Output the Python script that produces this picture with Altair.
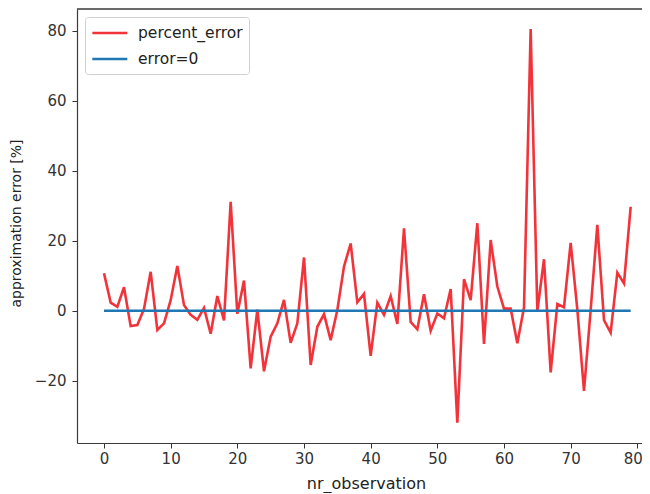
import altair as alt
import pandas as pd

# percent error per observation
percent_error = [
    10.7, 2.3, 1.1, 6.7, -4.4, -4.1, 0.5, 11.1, -5.5, -3.6,
    3.0, 12.8, 1.6, -1.2, -2.6, 0.8, -6.6, 4.2, -2.8, 31.1,
    -0.9, 8.6, -16.5, 0.3, -17.3, -7.4, -3.6, 3.1, -9.2, -3.6,
    15.2, -15.5, -4.6, -1.0, -8.4, 0.2, 12.6, 19.2, 2.4, 4.8,
    -12.9, 2.3, -1.2, 4.2, -3.8, 23.5, -3.2, -5.3, 4.7, -5.7,
    -0.8, -2.2, 6.2, -32.0, 9.0, 3.0, 25.0, -9.5, 20.2, 6.9,
    0.6, 0.6, -9.3, 0.9, 80.5, -0.1, 14.7, -17.6, 1.9, 1.0,
    19.4, 0.4, -22.9, 0.2, 24.5, -2.7, -6.3, 10.9, 7.8, 29.7,
]
observations = list(range(len(percent_error)))
zero_x = [0, 79]
zero_y = [0.0, 0.0]
series_names = ["percent_error", "error=0"]
series_colors = ["#f2333a", "#1f77b4"]
x_ticks = [0, 10, 20, 30, 40, 50, 60, 70, 80]
y_ticks = [-20, 0, 20, 40, 60, 80]

df_err = pd.DataFrame({"x": observations, "y": percent_error, "series": series_names[0]})
df_zero = pd.DataFrame({"x": zero_x, "y": zero_y, "series": series_names[1]})

FONT = "DejaVu Sans"
FRAME = "#3a3a3a"
W, H = 565, 434

color = alt.Color(
    "series:N",
    scale=alt.Scale(domain=series_names, range=series_colors),
    legend=alt.Legend(
        orient="none", legendX=8, legendY=8, title=None,
        symbolType="M-1,0H3.04", symbolSize=300, symbolStrokeWidth=2.5,
        labelFontSize=15.5, labelFont=FONT, labelColor="#222222", labelOffset=27,
        padding=6, strokeColor="#d0d0d0", fillColor="white", cornerRadius=3,
        rowPadding=7,
    ),
)

last_tick = "datum.value == %d" % x_ticks[-1]
xenc = alt.X(
    "x:Q",
    scale=alt.Scale(domain=[-4.05, 80.7], nice=False, zero=False),
    axis=alt.Axis(
        title="nr_observation", values=x_ticks,
        grid=False, domain=True, domainColor=FRAME, domainWidth=1.2,
        tickSize=5, tickColor="#333333",
        labelFontSize=15, labelFont=FONT, labelColor="#333333", labelPadding=3,
        labelAlign={"condition": {"test": last_tick, "value": "right"}, "value": "center"},
        labelOffset={"condition": {"test": last_tick, "value": 5}, "value": 0},
        titleFontSize=16, titleFont=FONT, titleFontWeight="normal", titleColor="#222222",
        titleX=289, titleY=45, titleAlign="center", titleBaseline="alphabetic",
    ),
)
yenc = alt.Y(
    "y:Q",
    scale=alt.Scale(domain=[-37.8, 86.2], nice=False, zero=False),
    axis=alt.Axis(
        title="approximation error [%]", values=y_ticks,
        grid=False, domain=True, domainColor=FRAME, domainWidth=1.2,
        tickSize=5, tickColor="#333333",
        labelFontSize=15, labelFont=FONT, labelColor="#333333", labelPadding=6,
        titleFontSize=14, titleFont=FONT, titleFontWeight="normal", titleColor="#222222",
        titleX=-56.5, titleY=214, titleBaseline="alphabetic", titleAngle=270,
    ),
)

err_line = alt.Chart(df_err).mark_line(strokeWidth=2.6, clip=True).encode(
    x=xenc, y=yenc, color=color
)
zero_line = alt.Chart(df_zero).mark_line(strokeWidth=2.6).encode(
    x="x:Q", y="y:Q", color=color
)
# top edge of the plot frame
top_frame = alt.Chart(df_zero).mark_rule(color=FRAME, strokeWidth=1.2).encode(
    x=alt.value(0), x2=alt.value(W), y=alt.value(0)
)

chart = (
    alt.layer(err_line, zero_line, top_frame)
    .properties(
        width=W, height=H,
        background="white",
        autosize=alt.AutoSizeParams(type="none"),
        padding={"left": 69, "top": 1, "right": 0, "bottom": 50},
    )
    .configure_view(stroke=None)
)

chart.save("out.html", embed_options={"renderer": "svg", "actions": False})
